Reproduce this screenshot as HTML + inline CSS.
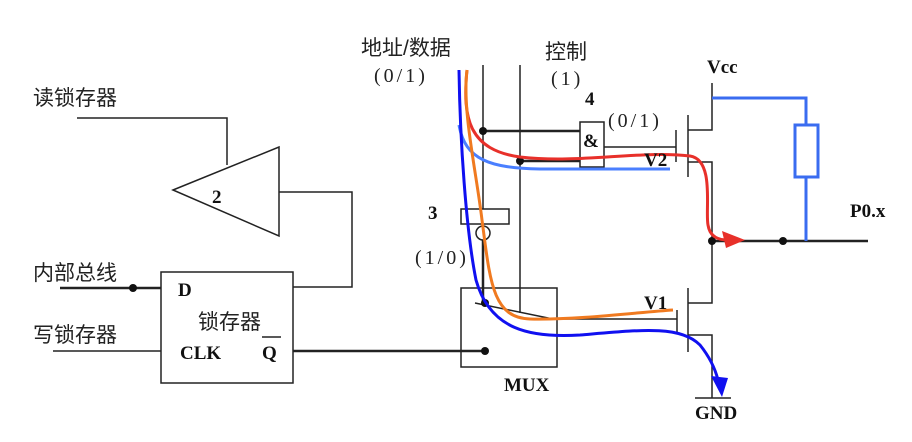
<!DOCTYPE html>
<html><head><meta charset="utf-8"><style>body{margin:0;background:#fff}svg{display:block}
.cn{font-family:"Liberation Sans","Noto Sans CJK SC",sans-serif;font-size:21px;fill:#222}
.b{font-family:"Liberation Serif",serif;font-weight:bold;font-size:19px;fill:#111}
.p{font-family:"Liberation Serif",serif;font-size:20px;fill:#222;letter-spacing:3px}
</style></head><body>
<svg width="912" height="442" viewBox="0 0 912 442" xmlns="http://www.w3.org/2000/svg">
<g stroke="#222" stroke-width="1.5" fill="none">
<polyline points="77,118 227,118 227,165"/>
<polygon points="173,190 279,147 279,236"/>
<polyline points="279,192 352,192 352,287 293,287"/>
<rect x="161" y="272" width="132" height="111"/>
<line x1="60" y1="288" x2="161" y2="288" stroke-width="2.5"/>
<line x1="53" y1="351" x2="161" y2="351"/>
<line x1="293" y1="351" x2="485" y2="351" stroke-width="2.5"/>
<line x1="262" y1="337" x2="281" y2="337"/>
<line x1="483" y1="65" x2="483" y2="209"/>
<line x1="520" y1="65" x2="520" y2="313"/>
<rect x="461" y="209" width="48" height="15"/>
<circle cx="483" cy="233" r="7" fill="#fff"/>
<line x1="483" y1="240" x2="483" y2="303" stroke-width="2.5"/>
<line x1="483" y1="131" x2="580" y2="131" stroke-width="2.5"/>
<line x1="520" y1="161" x2="580" y2="161" stroke-width="2.5"/>
<rect x="580" y="122" width="24" height="45"/>
<line x1="604" y1="147" x2="676" y2="147"/>
<rect x="461" y="288" width="96" height="79"/>
<line x1="475" y1="303" x2="553" y2="319"/>
<line x1="557" y1="319" x2="677" y2="319"/>
<line x1="676" y1="130" x2="676" y2="162"/>
<line x1="688" y1="115" x2="688" y2="177"/>
<polyline points="712,83 712,130 688,130"/>
<polyline points="688,162 712,162 712,303 688,303"/>
<line x1="712" y1="241" x2="868" y2="241" stroke-width="2.5"/>
<line x1="677" y1="310" x2="677" y2="332"/>
<line x1="688" y1="288" x2="688" y2="352"/>
<polyline points="688,335 712,335 712,398"/>
<line x1="695" y1="398" x2="731" y2="398"/>
</g>
<g stroke="#3a6cf0" stroke-width="3" fill="none">
<polyline points="712,98 806,98 806,125"/>
<rect x="795" y="125" width="23" height="52"/>
<line x1="806" y1="177" x2="806" y2="241"/>
</g>
<g fill="#111">
<circle cx="133" cy="288" r="4"/><circle cx="483" cy="131" r="4"/><circle cx="520" cy="161" r="4"/>
<circle cx="485" cy="303" r="4"/><circle cx="485" cy="351" r="4"/><circle cx="712" cy="241" r="4"/><circle cx="783" cy="241" r="4"/>
</g>
<path d="M459,125 C465,160 490,168 540,169 L670,169" stroke="#4a7fff" stroke-width="3" fill="none"/>
<path d="M467,70 C462,120 470,150 520,157 C580,164 640,150 690,156 C715,160 705,210 708,225 C710,238 720,240 728,240" stroke="#e8302a" stroke-width="3" fill="none"/>
<polygon points="745,240 722,231 726,248" fill="#e8302a"/>
<path d="M467,70 C462,110 476,170 482,220 C490,280 492,318 530,319 C580,320 640,312 673,310" stroke="#f07a20" stroke-width="3" fill="none"/>
<path d="M459,70 C460,140 466,230 476,280 C490,330 530,338 580,335 C640,330 680,325 700,345 C712,360 716,372 718,380" stroke="#1010f0" stroke-width="3" fill="none"/>
<polygon points="722,397 711,376 728,378" fill="#1010f0"/>
<text class="cn" x="33" y="105">读锁存器</text>
<text class="cn" x="33" y="280">内部总线</text>
<text class="cn" x="33" y="342">写锁存器</text>
<text class="cn" x="198" y="329">锁存器</text>
<text class="b" x="212" y="203">2</text>
<text class="b" x="178" y="296">D</text>
<text class="b" x="180" y="359">CLK</text>
<text class="b" x="262" y="359">Q</text>
<text class="cn" x="361" y="55">地址/数据</text>
<text class="p" x="374" y="82">(0/1)</text>
<text class="cn" x="545" y="59">控制</text>
<text class="p" x="551" y="85">(1)</text>
<text class="b" x="585" y="105">4</text>
<text class="p" x="608" y="127">(0/1)</text>
<text class="b" x="583" y="147">&amp;</text>
<text class="b" x="644" y="166">V2</text>
<text class="b" x="428" y="219">3</text>
<text class="p" x="415" y="264">(1/0)</text>
<text class="b" x="644" y="309">V1</text>
<text class="b" x="504" y="391">MUX</text>
<text class="b" x="695" y="419">GND</text>
<text class="b" x="707" y="73">Vcc</text>
<text class="b" x="850" y="217">P0.x</text>
</svg>
</body></html>
